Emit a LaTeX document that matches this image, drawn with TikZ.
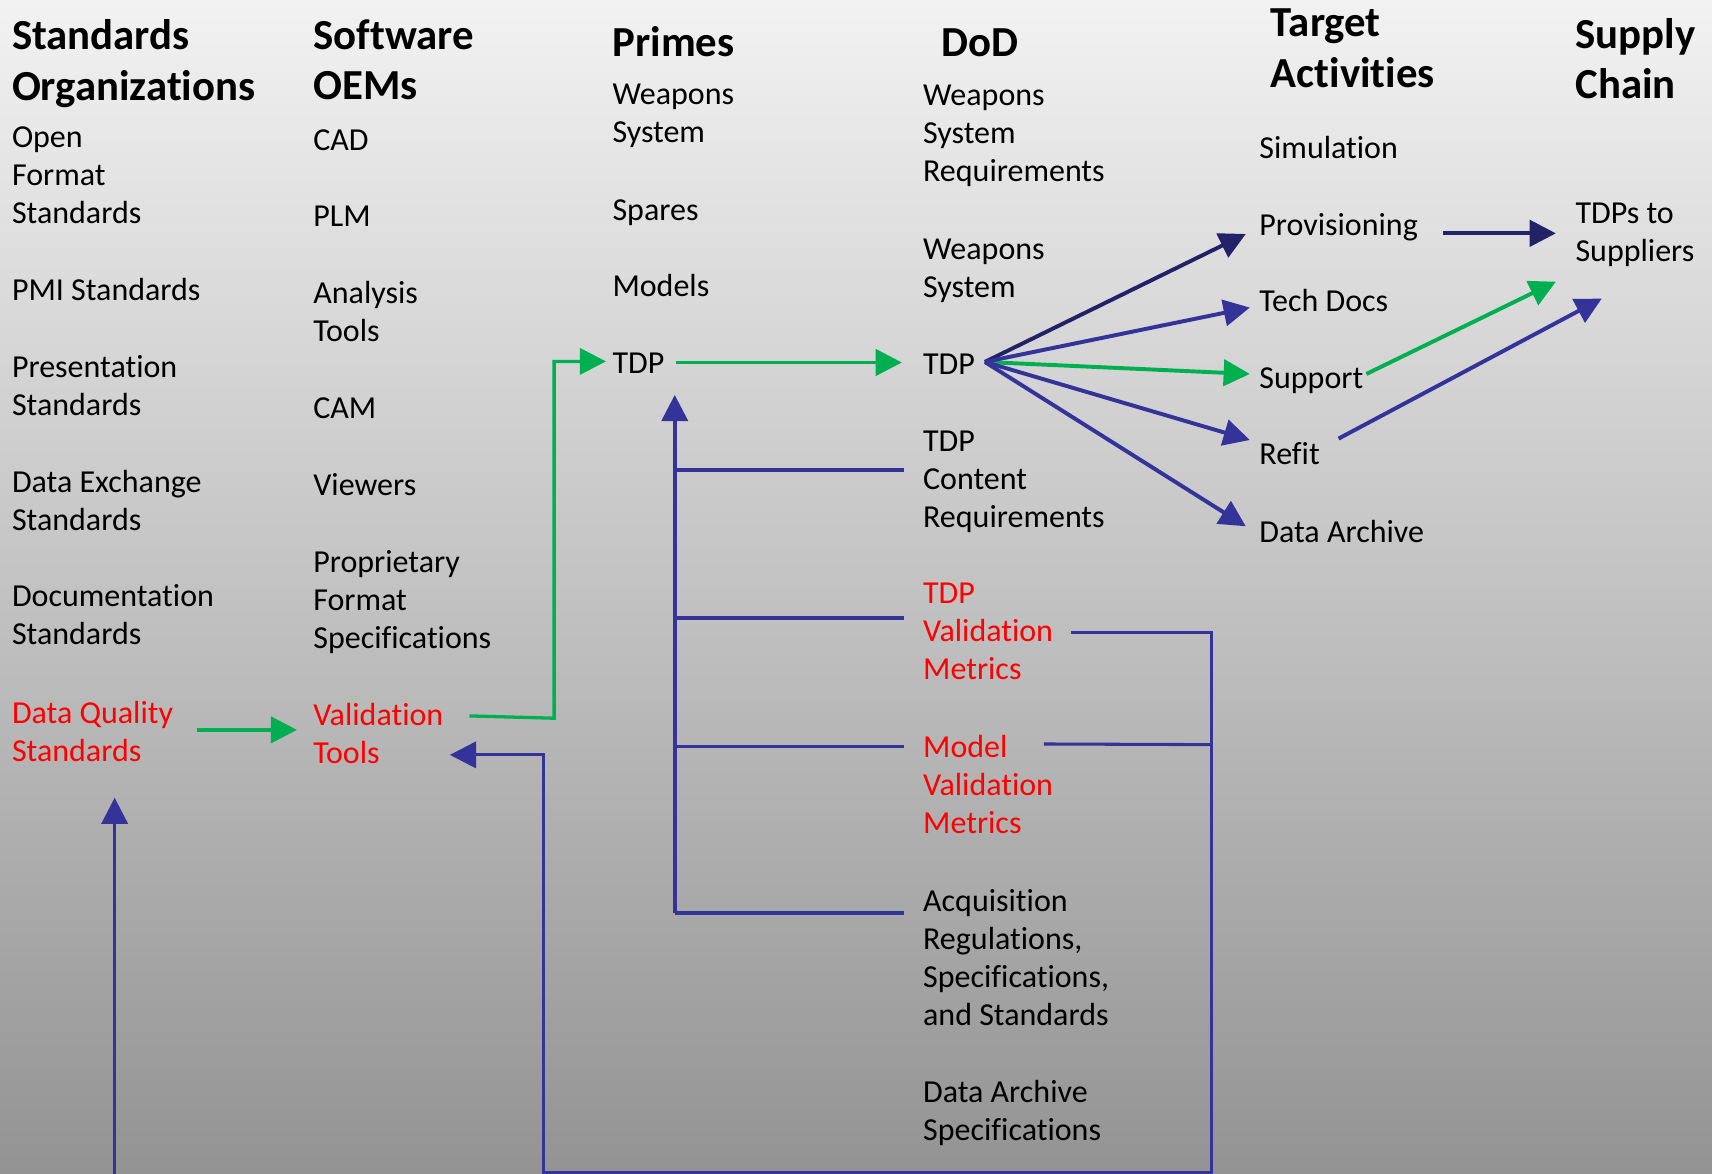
\documentclass[tikz,border=0pt]{standalone}
\usepackage{fontspec}
\setmainfont{Carlito}[Ligatures={NoCommon}]
\usetikzlibrary{arrows.meta}
\definecolor{grn}{HTML}{00B050}
\definecolor{blu}{HTML}{333399}
\definecolor{nav}{HTML}{232168}
\definecolor{bgtop}{HTML}{F2F2F2}
\definecolor{bgbot}{HTML}{939393}
\definecolor{redt}{HTML}{FF0000}
\newcommand{\mlines}[1]{\begin{tabular}[t]{@{}l@{}}#1\end{tabular}}
\begin{document}
\begin{tikzpicture}[x=1pt,y=-1pt,
  every node/.style={inner sep=0pt, outer sep=0pt, anchor=base west},
  item/.style={font=\fontsize{29.3}{34.8}\selectfont, text=black},
  redtxt/.style={font=\fontsize{29.3}{34.8}\selectfont, text=redt},
  head/.style={font=\fontsize{39.2}{46.5}\selectfont\bfseries, text=black},
  tip/.style={-{Triangle[length=24pt,width=24pt]}},
  garrow/.style={draw=grn, line width=3.6pt, tip},
  barrow/.style={draw=blu, line width=3.6pt, tip},
  narrow/.style={draw=nav, line width=3.6pt, tip},
  gline/.style={draw=grn, line width=3pt},
  bline/.style={draw=blu, line width=3.2pt},
  bthin/.style={draw=blu, line width=2.8pt},
]
% background
\shade[top color=bgtop, bottom color=bgbot] (0,0) rectangle (1568,1075);
\useasboundingbox (0,0) rectangle (1568,1075);

% ---------- column 1: Standards Organizations ----------
\node[head] (hstd) at (11,45.5) {\mlines{Standards\\Organizations}};
\node[item] (open) at (11,135) {\mlines{Open\\Format\\Standards}};
\node[item] (pmi) at (11,275.1) {PMI Standards};
\node[item] (pres) at (11,346.2) {\mlines{Presentation\\Standards}};
\node[item] (dex) at (11,451.4) {\mlines{Data Exchange\\Standards}};
\node[item] (doc) at (11,555.4) {\mlines{Documentation\\Standards}};
\node[redtxt] (dqs) at (11,662.3) {\mlines{Data Quality\\Standards}};

% ---------- column 2: Software OEMs ----------
\node[head] (hsw) at (287,45) {\mlines{Software\\OEMs}};
\node[item] (cad) at (287,137.4) {CAD};
\node[item] (plm) at (287,207.5) {PLM};
\node[item] (ana) at (287,277.6) {\mlines{Analysis\\Tools}};
\node[item] (cam) at (287,383) {CAM};
\node[item] (view) at (287,453.9) {Viewers};
\node[item] (prop) at (287,524) {\mlines{Proprietary\\Format\\Specifications}};
\node[redtxt] (vt) at (287,664.7) {\mlines{Validation\\Tools}};

% ---------- column 3: Primes ----------
\node[head] (hpr) at (561,51.9) {Primes};
\node[item] (pws) at (561,95.7) {\mlines{Weapons\\System}};
\node[item] (spa) at (561,201.5) {Spares};
\node[item] (mod) at (561,271.6) {Models};
\node[item] (ptdp) at (561,341.7) {TDP};

% ---------- column 4: DoD ----------
\node[head] (hdod) at (862,51.9) {DoD};
\node[item] (wsr) at (845.5,96.4) {\mlines{Weapons\\System\\Requirements}};
\node[item] (dws) at (845.5,237.6) {\mlines{Weapons\\System}};
\node[item] (dtdp) at (845.5,342.7) {TDP};
\node[item] (tcr) at (845.5,413.6) {\mlines{TDP\\Content\\Requirements}};
\node[redtxt] (tvm) at (845.5,552.7) {\mlines{TDP\\Validation\\Metrics}};
\node[redtxt] (mvm) at (845.5,694.2) {\mlines{Model\\Validation\\Metrics}};
\node[item] (acq) at (845.5,834.6) {\mlines{Acquisition\\Regulations,\\Specifications,\\and Standards}};
\node[item] (das) at (845.5,1009.8) {\mlines{Data Archive\\Specifications}};

% ---------- column 5: Target Activities ----------
\node[head] (htgt) at (1164,33.5) {\mlines{Target\\Activities}};
\node[item] (sim) at (1153.5,145.4) {Simulation};
\node[item] (prov) at (1153.5,215.5) {Provisioning};
\node[item] (tech) at (1153.5,285.6) {Tech Docs};
\node[item] (sup) at (1153.5,355.7) {Support};
\node[item] (ref) at (1153.5,425.8) {Refit};
\node[item] (darc) at (1153.5,497) {Data Archive};

% ---------- column 6: Supply Chain ----------
\node[head] (hsc) at (1443,44) {\mlines{Supply\\Chain}};
\node[item] (tdps) at (1443,205) {\mlines{TDPs to\\Suppliers}};

% ---------- connector end points ----------
\coordinate (dqsR) at (180,668.5);
\coordinate (vtL) at (272,668.5);
\coordinate (vtR) at (430,655.7);
\coordinate (gc1) at (507.5,657.8);
\coordinate (gc2) at (507.5,331);
\coordinate (ptdpL) at (555,331);
\coordinate (ptdpR) at (619,332);
\coordinate (dtdpL) at (826,332);
\coordinate (fan) at (902,331.5);
\coordinate (provL) at (1141,214.3);
\coordinate (techL) at (1144.7,281.7);
\coordinate (supL) at (1144.7,342.5);
\coordinate (refL) at (1144.7,403);
\coordinate (darcL) at (1141,482);
\coordinate (provR) at (1321.7,213.7);
\coordinate (tdpsA) at (1425,213.7);
\coordinate (supR) at (1251.5,342.5);
\coordinate (tdpsB) at (1425,258);
\coordinate (refR) at (1226,401.7);
\coordinate (tdpsC) at (1467,273.5);
\coordinate (trunkTop) at (618,361.7);
\coordinate (trunkBot) at (618,836.4);
\coordinate (b1) at (618,430.4);
\coordinate (b2) at (618,565.8);
\coordinate (b3) at (618,683.8);
\coordinate (tcrL) at (828,430.4);
\coordinate (tvmL) at (828,565.8);
\coordinate (mvmL) at (828,683.8);
\coordinate (acqL) at (828,836.4);
\coordinate (tvmR) at (981,579.7);
\coordinate (mvmR) at (956,681.4);
\coordinate (rc1) at (1110,579.7);
\coordinate (rc2) at (1110,682);
\coordinate (rc3) at (1110,1074);
\coordinate (lc1) at (497.4,1074);
\coordinate (lc2) at (497.4,691.4);
\coordinate (vtT) at (412,691.4);
\coordinate (upBot) at (105,1076);
\coordinate (dqsB) at (105,730.6);

% ---------- green connectors ----------
\draw[garrow] (dqsR) -- (vtL);
\draw[gline, tip] (vtR) -- (gc1) -- (gc2) -- (ptdpL);
\draw[garrow] (ptdpR) -- (dtdpL);
\draw[garrow] (fan) -- (supL);
\draw[garrow] (supR) -- (tdpsB);

% ---------- fan from DoD TDP ----------
\draw[narrow] (fan) -- (provL);
\draw[barrow] (fan) -- (techL);
\draw[barrow] (fan) -- (refL);
\draw[barrow] (fan) -- (darcL);
\draw[narrow] (provR) -- (tdpsA);
\draw[barrow] (refR) -- (tdpsC);

% ---------- tree into Primes TDP ----------
\draw[bline, tip] (trunkBot) -- (trunkTop);
\draw[bline] (b1) -- (tcrL);
\draw[bline] (b2) -- (tvmL);
\draw[bline] (b3) -- (mvmL);
\draw[bline] (trunkBot) -- (acqL);

% ---------- feedback loop to Validation Tools ----------
\draw[bthin, tip] (tvmR) -- (rc1) -- (rc3) -- (lc1) -- (lc2) -- (vtT);
\draw[bthin] (mvmR) -- (rc2);
\draw[bthin, tip] (upBot) -- (dqsB);
\end{tikzpicture}
\end{document}
